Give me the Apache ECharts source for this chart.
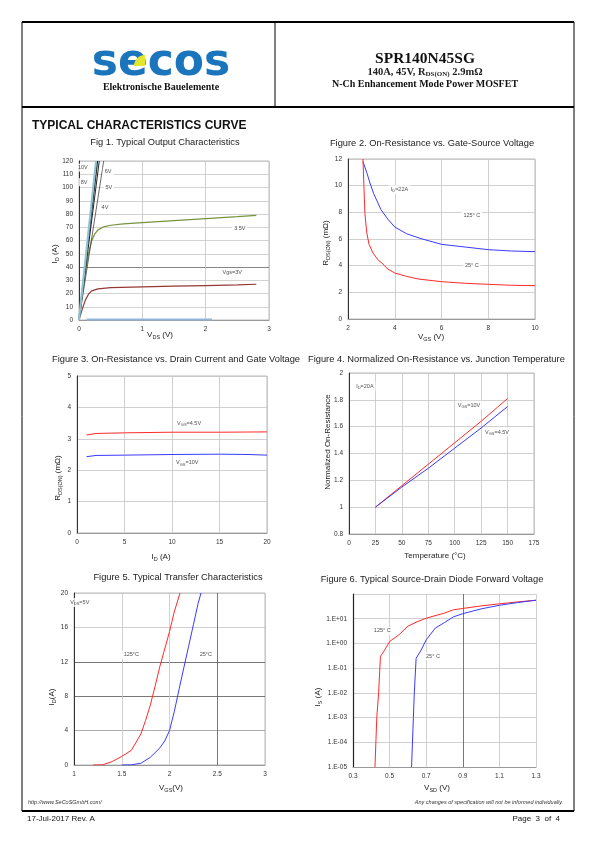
<!DOCTYPE html>
<html><head><meta charset="utf-8">
<script src="https://cdn.jsdelivr.net/npm/echarts@6/dist/echarts.min.js"></script>
<style>html,body{margin:0;padding:0;background:#fff}#c{width:595px;height:842px}</style>
</head><body><div id="c"></div>
<script>
// ---------- DATA ----------
// Fig 1: Output characteristics  [VDS, ID]
const f1_10V = [[0,0],[0.27,120]];
const f1_8V  = [[0,0],[0.29,120]];
const f1_6V  = [[0,0],[0.32,120]];
const f1_5V  = [[0,0],[0.39,120]];
const f1_3p5V = [[0,0],[0.05,18],[0.1,35],[0.15,50],[0.2,60],[0.25,65],[0.3,68],[0.4,70.5],[0.5,71.5],[0.7,72.5],[1,73.5],[1.5,75],[2,76.5],[2.5,78],[2.8,79]];
const f1_3V  = [[0,0],[0.05,8],[0.1,15],[0.15,19.5],[0.2,22],[0.3,23.5],[0.5,24.5],[1,25],[1.5,25.5],[2,26],[2.5,26.5],[2.8,27]];
const f1_2p5V = [[0.12,0.4],[2.1,0.4]];
const f1_labels = [[0.06,115,'10V'],[0.08,104,'8V'],[0.46,112,'6V'],[0.47,100,'5V'],[0.41,85,'4V'],[2.54,69,'3.5V'],[2.42,35.5,'Vgs=3V']];

// Fig 2: On-resistance vs VGS  [VGS, RDS(on) mΩ]
const f2_125C = [[2.64,11.8],[2.8,11],[2.94,10.2],[3.1,9.4],[3.41,8.2],[3.7,7.5],[4.0,6.9],[4.5,6.4],[5.08,6.05],[6.0,5.6],[7,5.4],[8,5.2],[9,5.1],[10,5.05]];
const f2_25C  = [[2.64,12],[2.68,10],[2.72,8],[2.8,6.5],[2.9,5.6],[3.07,4.95],[3.3,4.4],[3.45,4.2],[3.7,3.75],[4.0,3.45],[4.5,3.2],[5,3.0],[6,2.8],[7,2.68],[8,2.6],[9,2.53],[10,2.5]];
const f2_labels = [[4.2,9.7,'{a|I}{s|D}{a|=22A}'],[7.3,7.8,'125° C'],[7.3,4.0,'25° C']];

// Fig 3: On-resistance vs ID  [ID, RDS(on) mΩ]
const f3_4p5V = [[1,3.12],[2,3.17],[5,3.19],[10,3.21],[15,3.21],[20,3.22]];
const f3_10V  = [[1,2.43],[2,2.47],[5,2.48],[10,2.5],[15,2.51],[18,2.5],[20,2.48]];
const f3_labels = [[11.8,3.5,'{a|V}{s|GS}{a|=4.5V}'],[11.6,2.23,'{a|V}{s|GS}{a|=10V}']];

// Fig 4: Normalized on-resistance vs Tj  [T, Rnorm]
const f4_10V  = [[25,1],[50,1.16],[75,1.32],[100,1.48],[125,1.64],[150,1.81]];
const f4_4p5V = [[25,1],[50,1.15],[75,1.29],[100,1.44],[125,1.59],[150,1.75]];
const f4_labels = [[15,1.9,'{a|I}{s|D}{a|=20A}'],[113.5,1.76,'{a|V}{s|GS}{a|=10V}'],[140,1.56,'{a|V}{s|GS}{a|=4.5V}']];

// Fig 5: Transfer characteristics  [VGS, ID]
const f5_125C = [[1.2,0],[1.3,0.02],[1.4,0.4],[1.5,1.0],[1.6,1.7],[1.7,3.6],[1.75,5.2],[1.8,7],[1.85,9.2],[1.9,11.5],[1.95,13.5],[2.0,15.5],[2.05,17.8],[2.11,20]];
const f5_25C  = [[1.5,0],[1.6,0.02],[1.7,0.2],[1.8,0.9],[1.9,2],[1.95,2.8],[2.0,4],[2.05,6.2],[2.1,8.8],[2.15,11.3],[2.2,13.8],[2.25,16.3],[2.3,18.8],[2.33,20]];
const f5_labels = [[1.06,18.9,'{a|V}{s|DS}{a|=5V}'],[1.6,12.8,'125°C'],[2.38,12.9,'25°C']];

// Fig 6: Diode forward voltage  [VSD, IS]
const f6_125C = [[0.42,1e-5],[0.43,1e-3],[0.44,1e-2],[0.45,0.3],[0.47,0.5],[0.5,1.2],[0.55,2.2],[0.6,5],[0.65,7.5],[0.7,10.5],[0.8,17],[0.85,23],[0.9,26],[1.0,33],[1.1,40],[1.2,48],[1.3,56]];
const f6_25C  = [[0.62,1e-5],[0.63,1e-3],[0.635,1e-2],[0.645,0.25],[0.67,0.5],[0.7,1.4],[0.75,4.2],[0.8,7],[0.85,12],[0.9,16],[1.0,25],[1.1,35],[1.2,45],[1.3,56]];
const f6_labels = [[0.46,3.3,'125° C'],[0.737,0.3,'25° C']];

// ---------- STYLE / LAYOUT ----------
const SANS = 'Liberation Sans, Arial, sans-serif';
const SERIF = 'Liberation Serif, Times New Roman, serif';
const RED = '#ff2a2a', BLUE = '#3a3aff';
const grids = [
  {left:79, top:161, width:190, height:159},
  {left:348, top:159, width:187, height:160},
  {left:77, top:376, width:190, height:157},
  {left:349, top:373, width:185, height:161},
  {left:74, top:593, width:191, height:172},
  {left:353, top:594, width:183, height:173}
];
const richSub = {
  a:{fontSize:5.5, fontFamily:SANS, color:'#222'},
  s:{fontSize:4, fontFamily:SANS, color:'#222', padding:[3,0,0,0]}
};

function xAx(i, min, max, interval, splitColor, extra){
  return Object.assign({
    type:'value', gridIndex:i, min, max, interval,
    axisLine:{show:true, onZero:false, lineStyle:{color:'#999', width:1}},
    axisTick:{show:false},
    axisLabel:{fontSize:6.5, fontFamily:SANS, color:'#333', margin:6},
    splitLine:{show:true, lineStyle:{color:splitColor||'#c4c4c4', width:0.8}}
  }, extra||{});
}
function yAx(i, min, max, interval, splitColor, extra){
  return Object.assign({
    type:'value', gridIndex:i, min, max, interval,
    axisLine:{show:true, onZero:false, lineStyle:{color:'#333', width:1}},
    axisTick:{show:false},
    axisLabel:{fontSize:6.5, fontFamily:SANS, color:'#333', margin:6},
    splitLine:{show:true, lineStyle:{color:splitColor||'#c4c4c4', width:0.8}}
  }, extra||{});
}
function line(i, data, color, width){
  return {type:'line', xAxisIndex:i, yAxisIndex:i, data, showSymbol:false, symbol:'none',
    lineStyle:{color, width:width||1}, animation:false, z:3};
}
function labels(i, arr, bg){
  return {type:'scatter', xAxisIndex:i, yAxisIndex:i, symbolSize:0, animation:false, z:5,
    data:arr.map(d=>({value:[d[0],d[1]], name:d[2]})),
    label:{show:true, position:'inside', formatter:p=>p.name, fontSize:5.5, fontFamily:SANS, color:'#222',
      backgroundColor:bg?'#fff':'transparent', padding:[1,2], rich:richSub}};
}
function txt(x, y, text, o){
  o = o||{};
  return {type:'text', x, y, rotation:o.rot||0, z:10,
    style:{text, fontSize:o.size||9, fontFamily:o.family||SANS, fontWeight:o.weight||'normal',
      fontStyle:o.style||'normal', fill:o.fill||'#222', align:o.align||'left', verticalAlign:o.va||'middle',
      rich:o.rich}};
}
function hline(x1,x2,y,w){return {type:'line', shape:{x1,y1:y,x2,y2:y}, style:{stroke:'#000', lineWidth:w||1}, z:10};}
function vline(x,y1,y2,w){return {type:'line', shape:{x1:x,y1,x2:x,y2}, style:{stroke:'#000', lineWidth:w||1}, z:10};}
function axName(x, y, text, rot, align){
  return txt(x, y, text, {rot:rot?Math.PI/2:0, align:align||'center', rich:{
    a:{fontSize:8, fontFamily:SANS, color:'#222'},
    s:{fontSize:5.5, fontFamily:SANS, color:'#222', padding:[4,0,0,0]}
  }});
}
function logFmt(v){
  const e = Math.round(Math.log10(v));
  if (e >= 2) return '';
  const s = (e>=0?'+':'-') + String(Math.abs(e)).padStart(2,'0');
  return '1.E' + s;
}

const chart = echarts.init(document.getElementById('c'), null, {renderer:'canvas'});
const option = {
  backgroundColor:'#fff',
  animation:false,
  grid: grids.map((g,i)=>Object.assign({show:true, borderColor:(i===5?'transparent':'#aaa'), borderWidth:0.8, backgroundColor:'transparent', containLabel:false}, g)),
  xAxis: [
    xAx(0,0,3,1),
    xAx(1,2,10,2),
    xAx(2,0,20,5),
    xAx(3,0,175,25),
    xAx(4,1,3,0.5,['#c4c4c4','#c4c4c4','#c4c4c4','#555','#c4c4c4']),
    xAx(5,0.3,1.3,0.2,['#c4c4c4','#c4c4c4','#c4c4c4','#555','#c4c4c4','#c4c4c4'],
      {axisLabel:{fontSize:6.5, fontFamily:SANS, color:'#333', margin:6, formatter:v=>(Math.round(v*10)/10).toString()}})
  ],
  yAxis: [
    yAx(0,0,120,10,['#c8c8c8','#c8c8c8','#c8c8c8','#c8c8c8','#666','#c8c8c8','#c8c8c8','#c8c8c8','#c8c8c8','#c8c8c8','#c8c8c8','#c8c8c8','#c8c8c8']),
    yAx(1,0,12,2),
    yAx(2,0,5,1),
    yAx(3,0.8,2,0.2,null,{axisLabel:{fontSize:6.5, fontFamily:SANS, color:'#333', margin:6, formatter:v=>(Math.round(v*10)/10).toString()}}),
    yAx(4,0,20,4,['#c4c4c4','#999','#555','#555','#c4c4c4','#c4c4c4']),
    {type:'log', logBase:10, gridIndex:5, min:1e-5, max:100,
      axisLine:{show:true, onZero:false, lineStyle:{color:'#222', width:1.2}},
      axisTick:{show:false},
      axisLabel:{fontSize:6.5, fontFamily:SANS, color:'#333', margin:6, formatter:logFmt},
      splitLine:{show:true, lineStyle:{color:'#c4c4c4', width:0.8}}}
  ],
  series: [
    line(0,f1_2p5V,'#95b3d7',2),
    line(0,f1_3V,'#953735',1.2),
    line(0,f1_3p5V,'#77933c',1.2),
    line(0,f1_5V,'#444',0.8),
    line(0,f1_6V,'#222',1),
    line(0,f1_8V,'#111',1.5),
    line(0,f1_10V,'#8fc3d3',2.2),
    labels(0,f1_labels,true),
    line(1,f2_125C,BLUE,1),
    line(1,f2_25C,RED,1),
    labels(1,f2_labels,true),
    line(2,f3_4p5V,RED,1),
    line(2,f3_10V,BLUE,1),
    labels(2,f3_labels,false),
    line(3,f4_10V,RED,1),
    line(3,f4_4p5V,BLUE,1),
    labels(3,f4_labels,true),
    line(4,f5_125C,RED,1),
    line(4,f5_25C,BLUE,1),
    labels(4,f5_labels,true),
    line(5,f6_125C,RED,1),
    line(5,f6_25C,BLUE,1),
    labels(5,f6_labels,true)
  ],
  graphic: [
    // frame
    hline(22,574,22,2), hline(22,574,107,2), hline(22,574,811,2),
    vline(22,22,811,1), vline(574,22,811,1), vline(275,22,107,1),
    // logo
    txt(161, 64, 'secos', {size:44, weight:'bold', family:'DejaVu Sans, sans-serif', fill:'#1b75bc', align:'center', va:'middle'}),
    {type:'sector', shape:{cx:145, cy:66, r:11, r0:0, startAngle:Math.PI, endAngle:Math.PI*1.5}, style:{fill:'#e3e52f'}, z:11},
    txt(161, 87, 'Elektronische Bauelemente', {size:10, weight:'bold', family:SERIF, fill:'#111', align:'center'}),
    // header right
    txt(425, 59, 'SPR140N45SG', {size:15.5, weight:'bold', family:SERIF, fill:'#111', align:'center'}),
    txt(425, 72, '{a|140A, 45V, R}{s|DS(ON)}{a| 2.9mΩ}', {align:'center', rich:{
      a:{fontSize:10.5, fontWeight:'bold', fontFamily:SERIF, color:'#111'},
      s:{fontSize:7, fontWeight:'bold', fontFamily:SERIF, color:'#111', padding:[4,0,0,0]}}}),
    txt(425, 84, 'N-Ch Enhancement Mode Power MOSFET', {size:10, weight:'bold', family:SERIF, fill:'#111', align:'center'}),
    // section title
    txt(32, 126, 'TYPICAL CHARACTERISTICS CURVE', {size:12, weight:'bold', fill:'#111'}),
    // figure titles
    txt(165, 142, 'Fig 1. Typical Output Characteristics', {size:9.3, align:'center'}),
    txt(432, 143, 'Figure 2. On-Resistance vs. Gate-Source Voltage', {size:9.3, align:'center'}),
    txt(52, 359, 'Figure 3. On-Resistance vs. Drain Current and Gate Voltage', {size:9.3}),
    txt(308, 359, 'Figure 4. Normalized On-Resistance vs. Junction Temperature', {size:9.3}),
    txt(178, 577, 'Figure 5. Typical Transfer Characteristics', {size:9.3, align:'center'}),
    txt(432, 579, 'Figure 6. Typical Source-Drain Diode Forward Voltage', {size:9.3, align:'center'}),
    // axis names
    axName(55, 254, '{a|I}{s|D}{a| (A)}', true),
    axName(160, 335, '{a|V}{s|DS}{a| (V)}', false),
    axName(326, 243, '{a|R}{s|DS(ON)}{a| (mΩ)}', true),
    axName(431, 337, '{a|V}{s|GS}{a| (V)}', false),
    axName(58, 478, '{a|R}{s|DS(ON)}{a| (mΩ)}', true),
    axName(161, 557, '{a|I}{s|D}{a| (A)}', false),
    axName(328, 442, '{a|Normalized On-Resistance}', true),
    axName(435, 556, '{a|Temperature (°C)}', false),
    axName(52, 697, '{a|I}{s|D}{a|(A)}', true),
    axName(171, 788, '{a|V}{s|GS}{a|(V)}', false),
    axName(318, 697, '{a|I}{s|S}{a| (A)}', true),
    axName(437, 788, '{a|V}{s|SD}{a| (V)}', false),
    // footer
    txt(28, 802, 'http://www.SeCoSGmbH.com/', {size:5.5, style:'italic', fill:'#333'}),
    txt(563, 802, 'Any changes of specification will not be informed individually.', {size:5.5, style:'italic', fill:'#333', align:'right'}),
    txt(27, 819, '17-Jul-2017 Rev. A', {size:8, fill:'#111'}),
    txt(560, 819, 'Page  3  of  4', {size:8, fill:'#111', align:'right'})
  ]
};
chart.setOption(option);
</script></body></html>
